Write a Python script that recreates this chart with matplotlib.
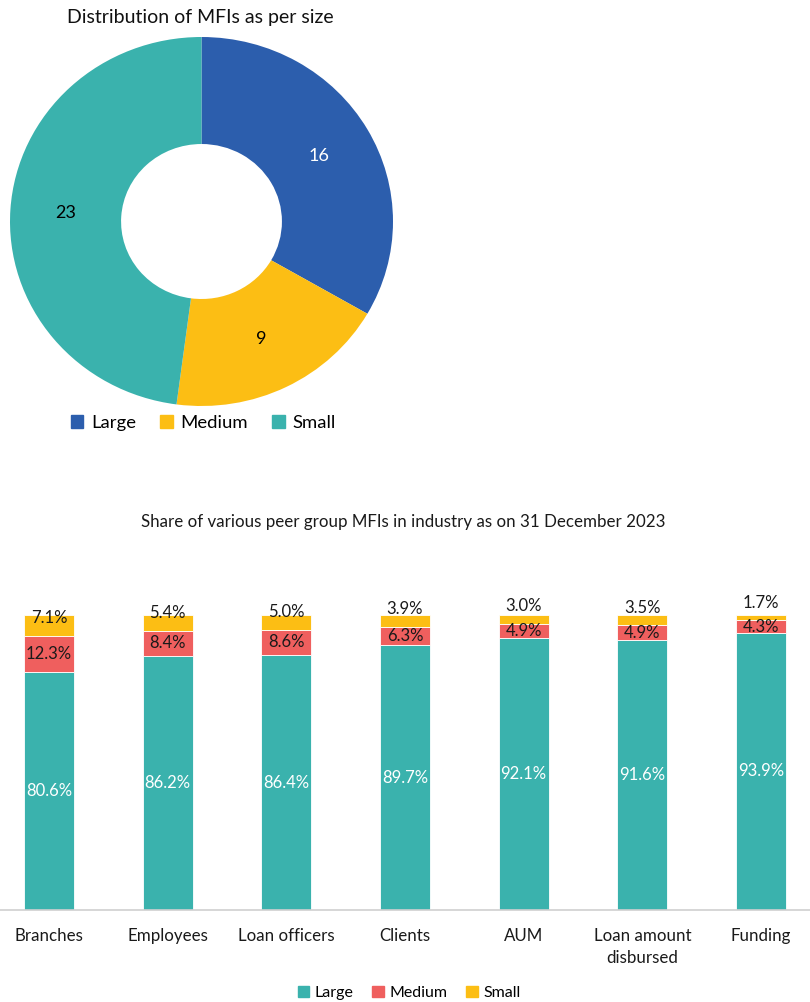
import matplotlib
matplotlib.use("Agg")
import matplotlib.pyplot as plt
from matplotlib.patches import Patch
import numpy as np

plt.rcParams['font.family'] = ['Lato', 'DejaVu Sans']

# ---- data ----
size_labels = ["Large", "Medium", "Small"]
size_counts = [16, 9, 23]

categories = ["Branches", "Employees", "Loan officers", "Clients", "AUM",
              "Loan amount\ndisbursed", "Funding"]
large_share = [80.6, 86.2, 86.4, 89.7, 92.1, 91.6, 93.9]
medium_share = [12.3, 8.4, 8.6, 6.3, 4.9, 4.9, 4.3]
small_share = [7.1, 5.4, 5.0, 3.9, 3.0, 3.5, 1.7]

# ---- styles ----
c_blue = "#2C5EAD"
c_yellow = "#FCBE14"
c_teal = "#3AB2AD"
c_red = "#EF5F5E"
W, H = 810, 1002
fig = plt.figure(figsize=(W / 100, H / 100), dpi=100)

# ---- donut ----
x0, x1, y0, y1 = 10, 393, 37, 406
ax1 = fig.add_axes([x0 / W, 1 - y1 / H, (x1 - x0) / W, (y1 - y0) / H])
wedges, _, autotexts = ax1.pie(size_counts, colors=[c_blue, c_yellow, c_teal],
                               startangle=90, counterclock=False, radius=1,
                               wedgeprops=dict(width=0.58, linewidth=0),
                               autopct=lambda p: f"{round(p * sum(size_counts) / 100)}",
                               pctdistance=0.71)
for t, col in zip(autotexts, ["white", "black", "black"]):
    t.set_color(col)
    t.set_fontsize(13)
ax1.set_xlim(-1, 1)
ax1.set_ylim(-1, 1)
ax1.set_aspect('auto')
fig.text(200 / W, 1 - 17 / H, "Distribution of MFIs as per size", ha='center', va='center',
         fontsize=14, color='#111111')
fig.legend(handles=[Patch(color=c, label=l) for c, l in zip([c_blue, c_yellow, c_teal], size_labels)],
           loc='center', bbox_to_anchor=(203 / W, 1 - 423 / H), ncol=3, frameon=False,
           fontsize=13.3, handlelength=0.7, handleheight=0.7, columnspacing=1.3,
           handletextpad=0.4)

# ---- stacked bars ----
base_px, top_px = 910, 615
ax2 = fig.add_axes([0, 1 - base_px / H, 1, (base_px - top_px) / H])
x = np.arange(len(categories))
bw = 0.42
large = np.array(large_share)
medium = np.array(medium_share)
small = np.array(small_share)
ax2.bar(x, large, bw, color=c_teal, edgecolor='white', linewidth=0.6)
ax2.bar(x, medium, bw, bottom=large, color=c_red, edgecolor='white', linewidth=0.6)
ax2.bar(x, small, bw, bottom=large + medium, color=c_yellow, edgecolor='white', linewidth=0.6)
for i in range(len(categories)):
    ax2.text(x[i], large[i] / 2, f"{large[i]:.1f}%", ha='center', va='center',
             color='white', fontsize=12)
    ax2.text(x[i], large[i] + medium[i] / 2, f"{medium[i]:.1f}%", ha='center', va='center',
             color='#1a1a1a', fontsize=12)
    ax2.text(x[i], large[i] + medium[i] + 6.0, f"{small[i]:.1f}%", ha='center', va='center',
             color='#1a1a1a', fontsize=12)
ax2.set_xlim(-0.413, 6.413)
ax2.set_ylim(0, 100)
for s in ['top', 'right', 'left']:
    ax2.spines[s].set_visible(False)
ax2.spines['bottom'].set_color('#d0d0d0')
ax2.spines['bottom'].set_linewidth(1.2)
ax2.set_yticks([])
ax2.set_xticks(x)
ax2.set_xticklabels(categories, fontsize=12.2, color='#1a1a1a', va='top', linespacing=1.45)
ax2.tick_params(axis='x', length=0, pad=13)
fig.text(403 / W, 1 - 522 / H, "Share of various peer group MFIs in industry as on 31 December 2023",
         ha='center', va='center', fontsize=12.2, color='#1a1a1a')
fig.legend(handles=[Patch(color=c, label=l) for c, l in zip([c_teal, c_red, c_yellow], size_labels)],
           loc='center', bbox_to_anchor=(409 / W, 1 - 993 / H), ncol=3, frameon=False,
           fontsize=11.5, handlelength=0.7, handleheight=0.7, columnspacing=1.2,
           handletextpad=0.35)

fig.savefig("out.png", dpi=100)
